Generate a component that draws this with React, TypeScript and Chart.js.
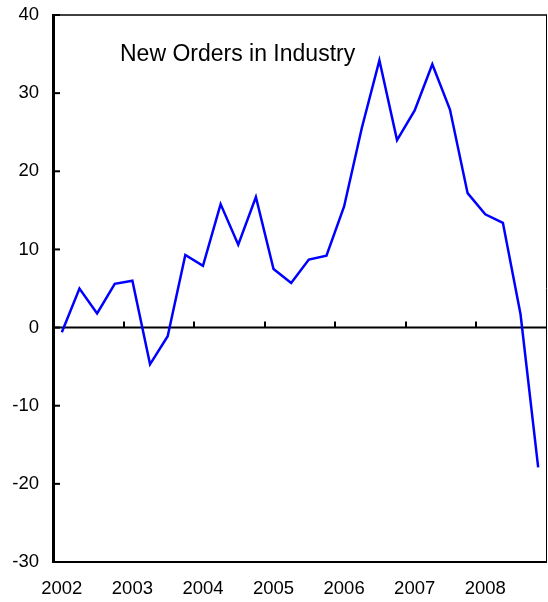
import React, { useEffect, useRef } from "react";
import { Chart, registerables } from "chart.js";

Chart.register(...registerables);

const years = ["2002", "2003", "2004", "2005", "2006", "2007", "2008"];
const quarters = ["Q1", "Q2", "Q3", "Q4"];
const newOrders = [
  -0.6, 5.0, 1.8, 5.6,
  6.0, -4.7, -1.1, 9.3,
  7.9, 15.8, 10.6, 16.7,
  7.5, 5.7, 8.7, 9.2,
  15.5, 25.5, 34.2, 24.0,
  27.8, 33.7, 27.9, 17.2,
  14.5, 13.4, 1.7, -17.9,
];
const yTicks = [-30, -20, -10, 0, 10, 20, 30, 40];
const chartTitle = "New Orders in Industry";

const FONT = 'Arial, "Liberation Sans", sans-serif';

export default function App() {
  const ref = useRef<HTMLCanvasElement | null>(null);

  useEffect(() => {
    if (!ref.current) return;
    const labels: string[] = [];
    years.forEach((y) => quarters.forEach((q) => labels.push(`${y} ${q}`)));

    const framePlugin = {
      id: "frame",
      beforeDatasetsDraw(chart: any) {
        const { ctx, chartArea, scales } = chart;
        const x = scales.x;
        const y = scales.y;
        const y0 = y.getPixelForValue(0);
        ctx.save();
        ctx.strokeStyle = "#000";
        ctx.lineWidth = 2;
        ctx.beginPath();
        ctx.moveTo(chartArea.left, y0);
        ctx.lineTo(chartArea.right, y0);
        ctx.stroke();
        for (let k = 1; k < years.length; k++) {
          const px = Math.round(x.getPixelForValue(k * 4 - 0.5));
          ctx.beginPath();
          ctx.moveTo(px, y0);
          ctx.lineTo(px, y0 - 6);
          ctx.stroke();
        }
        ctx.restore();
      },
      afterDraw(chart: any) {
        const { ctx, chartArea, scales } = chart;
        const y = scales.y;
        const { left, right, top, bottom } = chartArea;
        ctx.save();
        ctx.strokeStyle = "#000";
        ctx.lineWidth = 1.5;
        ctx.beginPath();
        ctx.moveTo(left, top);
        ctx.lineTo(right, top);
        ctx.stroke();
        ctx.lineWidth = 1;
        ctx.beginPath();
        ctx.moveTo(right - 0.5, top);
        ctx.lineTo(right - 0.5, bottom);
        ctx.stroke();
        ctx.lineWidth = 2;
        ctx.beginPath();
        ctx.moveTo(left, bottom);
        ctx.lineTo(right, bottom);
        ctx.stroke();
        ctx.lineWidth = 3;
        ctx.beginPath();
        ctx.moveTo(left + 0.5, top - 1);
        ctx.lineTo(left + 0.5, bottom + 1);
        ctx.stroke();
        ctx.lineWidth = 2;
        yTicks.forEach((v) => {
          const py = y.getPixelForValue(v);
          ctx.beginPath();
          ctx.moveTo(left, py);
          ctx.lineTo(left + 7, py);
          ctx.stroke();
        });
        ctx.fillStyle = "#000";
        ctx.font = `23px ${FONT}`;
        ctx.textAlign = "left";
        ctx.textBaseline = "alphabetic";
        ctx.fillText(chartTitle, left + 67, top + 46);
        ctx.restore();
      },
    };

    const chart = new Chart(ref.current, {
      type: "line",
      data: {
        labels,
        datasets: [
          {
            data: newOrders,
            borderColor: "#0000FF",
            borderWidth: 2.5,
            pointRadius: 0,
            tension: 0,
            fill: false,
          },
        ],
      },
      options: {
        responsive: false,
        animation: false,
        events: [],
        layout: { padding: { top: 15, right: 1, left: 0, bottom: 0 } },
        plugins: {
          legend: { display: false },
          tooltip: { enabled: false },
          title: { display: false },
        },
        scales: {
          x: {
            type: "category",
            offset: true,
            grid: { display: false, drawTicks: false },
            border: { display: false },
            ticks: {
              autoSkip: false,
              maxRotation: 0,
              minRotation: 0,
              padding: 16,
              color: "#000",
              font: { family: FONT, size: 18.5 },
              callback: (_v: any, i: number) => (i % 4 === 0 ? years[i / 4] : ""),
            },
            afterFit: (s: any) => {
              s.height = 40;
              s.paddingLeft = 0;
              s.paddingRight = 0;
              s.paddingTop = 0;
              s.paddingBottom = 0;
            },
          },
          y: {
            min: -30,
            max: 40,
            grid: { display: false, drawTicks: false },
            border: { display: false },
            afterBuildTicks: (s: any) => {
              s.ticks = yTicks.map((v) => ({ value: v }));
            },
            ticks: {
              padding: 14,
              color: "#000",
              font: { family: FONT, size: 18.5 },
              callback: (v: any) => String(v),
            },
            afterFit: (s: any) => {
              s.width = 53;
              s.paddingLeft = 0;
              s.paddingRight = 0;
              s.paddingTop = 0;
              s.paddingBottom = 0;
            },
          },
        },
      },
      plugins: [framePlugin],
    });
    return () => chart.destroy();
  }, []);

  return (
    <div style={{ position: "absolute", left: 0, top: 0, width: 548, height: 602 }}>
      <canvas ref={ref} width={548} height={602} />
    </div>
  );
}
